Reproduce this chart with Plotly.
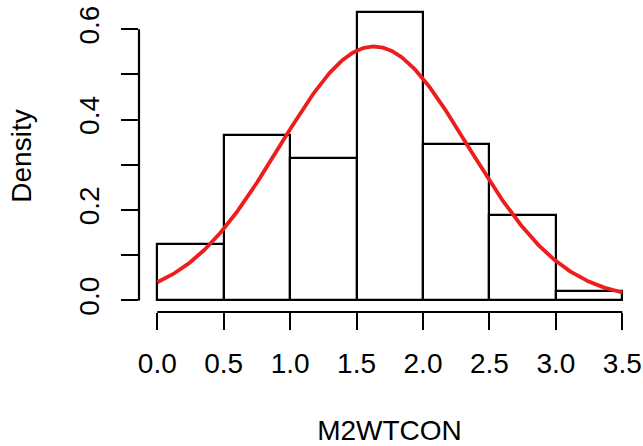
import plotly.graph_objects as go
import numpy as np

# Histogram bins (x) and densities
bin_edges = [0.0, 0.5, 1.0, 1.5, 2.0, 2.5, 3.0, 3.5]
densities = [0.125, 0.367, 0.315, 0.639, 0.346, 0.190, 0.021]

# Fitted normal curve parameters
curve_mean = 1.63
curve_sd = 0.71

x_tick_vals = [0.0, 0.5, 1.0, 1.5, 2.0, 2.5, 3.0, 3.5]
x_tick_text = ["0.0", "0.5", "1.0", "1.5", "2.0", "2.5", "3.0", "3.5"]
y_tick_vals = [0.0, 0.1, 0.2, 0.3, 0.4, 0.5, 0.6]
y_tick_text = ["0.0", "", "0.2", "", "0.4", "", "0.6"]

x_label = "M2WTCON"
y_label = "Density"

centers = [(a + b) / 2 for a, b in zip(bin_edges[:-1], bin_edges[1:])]
widths = [b - a for a, b in zip(bin_edges[:-1], bin_edges[1:])]

xs = np.linspace(bin_edges[0], bin_edges[-1], 300)
ys = np.exp(-((xs - curve_mean) ** 2) / (2 * curve_sd ** 2)) / (curve_sd * np.sqrt(2 * np.pi))

FONT = "Liberation Sans, Arial, Helvetica, sans-serif"

fig = go.Figure()
fig.add_trace(go.Bar(
    x=centers, y=densities, width=widths,
    marker=dict(color="white", line=dict(color="black", width=2.2)),
    showlegend=False, hoverinfo="x+y",
))
fig.add_trace(go.Scatter(
    x=xs, y=ys, mode="lines",
    line=dict(color="#EE1D1D", width=3.8),
    showlegend=False,
))

# R-style detached axis lines
fig.add_shape(type="line", xref="x", yref="paper",
              x0=x_tick_vals[0], x1=x_tick_vals[-1], y0=0, y1=0,
              line=dict(color="black", width=2.2))
fig.add_shape(type="line", xref="paper", yref="y",
              x0=0, x1=0, y0=y_tick_vals[0], y1=y_tick_vals[-1],
              line=dict(color="black", width=2.2))

fig.update_layout(
    width=643, height=446,
    margin=dict(l=139, r=3, t=0, b=134),
    paper_bgcolor="white", plot_bgcolor="white",
    font=dict(family=FONT, size=28, color="black"),
    bargap=0,
    xaxis=dict(
        range=[-0.1377, 3.6332],
        tickmode="array", tickvals=x_tick_vals, ticktext=x_tick_text,
        ticks="outside", ticklen=17, tickwidth=2.2, tickcolor="black",
        showline=False, showgrid=False, zeroline=False,
        ticklabelstandoff=9,
        automargin=False,
        title=dict(text=x_label, font=dict(size=28), standoff=43),
    ),
    yaxis=dict(
        range=[-0.02565, 0.6648],
        tickmode="array", tickvals=y_tick_vals, ticktext=y_tick_text,
        ticks="outside", ticklen=17, tickwidth=2.2, tickcolor="black",
        tickangle=-90,
        showline=False, showgrid=False, zeroline=False,
        ticklabelstandoff=11,
        automargin=False,
        title=dict(text=y_label, font=dict(size=28), standoff=33),
    ),
)

fig.write_html(
    "out.html",
    config={"displayModeBar": False},
    post_script="document.body.style.margin='0';document.body.style.overflow='hidden';",
)
